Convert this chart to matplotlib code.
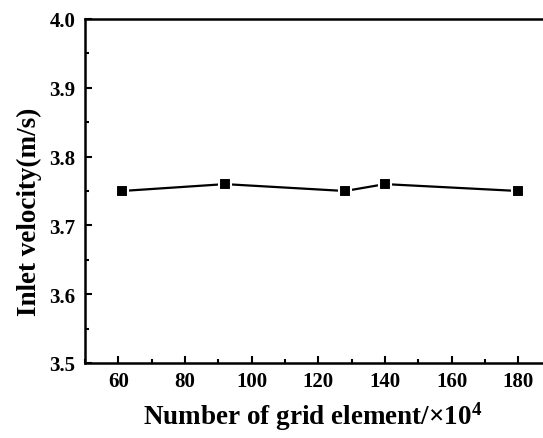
import matplotlib
matplotlib.use('Agg')
import matplotlib.pyplot as plt
from matplotlib.ticker import MultipleLocator, FormatStrFormatter

# grid independence data
grid_elements = [61, 92, 128, 140, 180]  # x10^4
inlet_velocity = [3.75, 3.76, 3.75, 3.76, 3.75]

plt.rcParams['font.family'] = ['Liberation Serif', 'DejaVu Serif']
plt.rcParams['font.weight'] = 'bold'
plt.rcParams['mathtext.fontset'] = 'custom'
plt.rcParams['mathtext.rm'] = 'Liberation Serif:bold'
plt.rcParams['mathtext.default'] = 'rm'

fig = plt.figure(figsize=(5.43, 4.39), dpi=100)
ax = fig.add_axes([85 / 543, 75 / 439, 466.7 / 543, 344 / 439])

ax.plot(grid_elements, inlet_velocity, color='black', lw=1.6,
        marker='s', ms=9, mfc='black', mec='white', mew=1.5)

ax.set_xlim(50, 190)
ax.set_ylim(3.5, 4.0)
ax.xaxis.set_major_locator(MultipleLocator(20))
ax.xaxis.set_minor_locator(MultipleLocator(10))
ax.yaxis.set_major_locator(MultipleLocator(0.1))
ax.yaxis.set_minor_locator(MultipleLocator(0.05))
ax.yaxis.set_major_formatter(FormatStrFormatter('%.1f'))

ax.tick_params(which='both', direction='in', width=1.5, labelsize=15)
ax.tick_params(which='major', length=5)
ax.tick_params(which='minor', length=3)
ax.tick_params(axis='x', pad=6)
ax.tick_params(axis='y', pad=7)
for s in ax.spines.values():
    s.set_linewidth(1.8)

ax.set_xlabel(r'Number of grid element/×10$^{4}$', fontsize=19.5, fontweight='bold')
ax.set_ylabel('Inlet velocity(m/s)', fontsize=19.5, fontweight='bold')
ax.xaxis.set_label_coords(0.489, -0.105)
ax.yaxis.set_label_coords(-0.092, 0.443)

fig.savefig('out.png', dpi=100)
